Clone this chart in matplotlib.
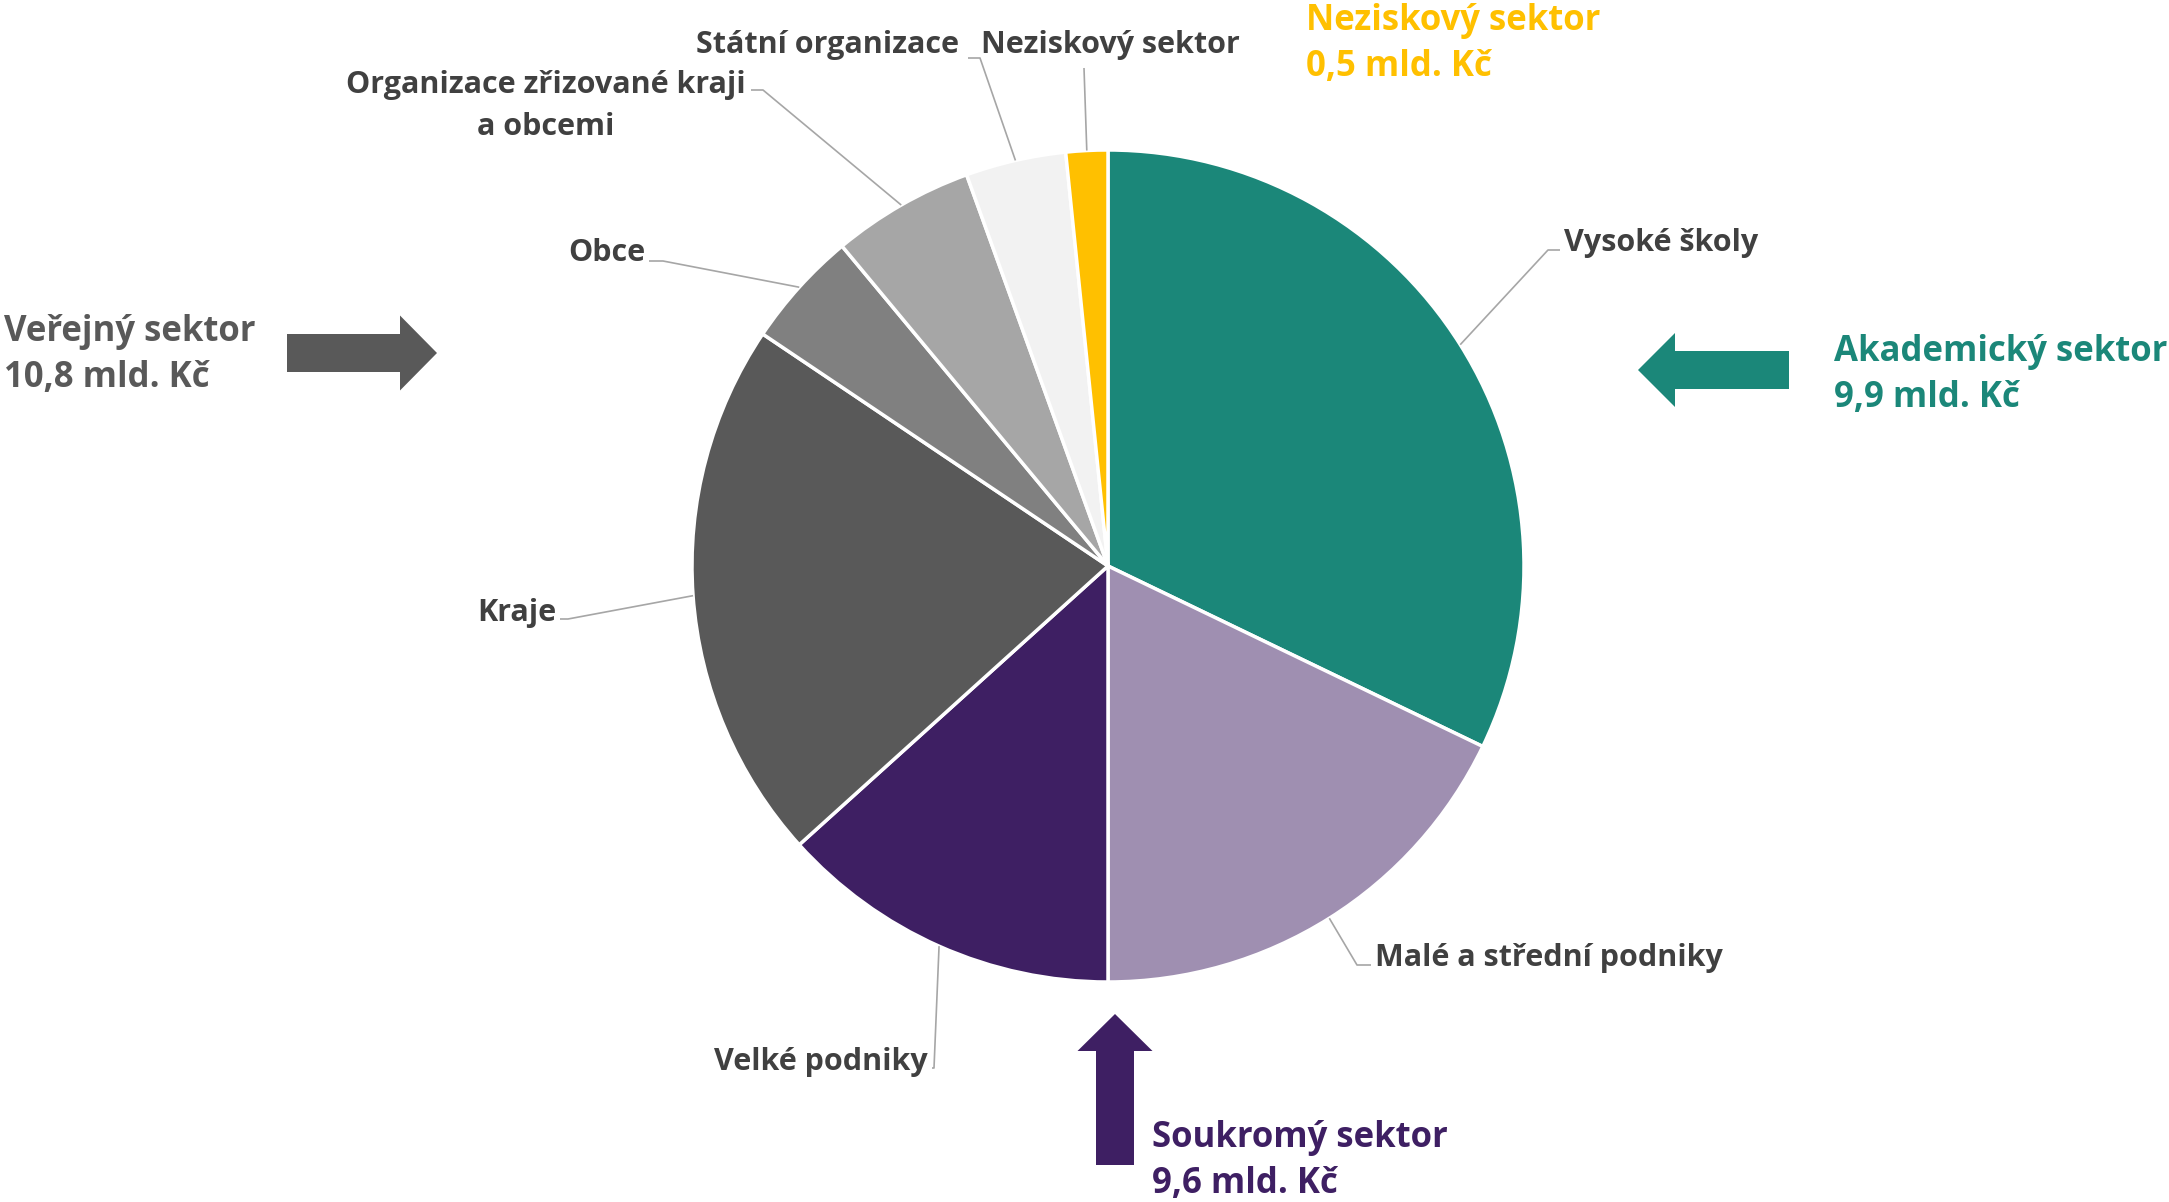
import numpy as np
import matplotlib
matplotlib.use("Agg")
import matplotlib.pyplot as plt
from matplotlib.patches import FancyArrow

plt.rcParams['font.family'] = ['Open Sans', 'DejaVu Sans']

# podíly jednotlivých příjemců (mld. Kč)
categories = ["Vysoké školy", "Malé a střední podniky", "Velké podniky", "Kraje",
              "Obce", "Organizace zřizované kraji\na obcemi", "Státní organizace",
              "Neziskový sektor"]
values = [9.9, 5.5, 4.1, 6.5, 1.4, 1.7, 1.2, 0.5]
colors = ["#1B8779", "#9F8FB1", "#3E1F63", "#595959", "#808080", "#A6A6A6",
          "#F2F2F2", "#FFC000"]

sector_names = ["Akademický sektor", "Soukromý sektor", "Veřejný sektor", "Neziskový sektor"]
sector_totals = ["9,9", "9,6", "10,8", "0,5"]
sector_colors = ["#1B8779", "#3E1F63", "#595959", "#FFC000"]

W, H = 2169, 1202
fig = plt.figure(figsize=(W / 100, H / 100), dpi=100)
ax = fig.add_axes([0, 0, 1, 1])

cx, cy, R = 1108, 566, 416
# osa y je obrácená (pixely shora), takže counterclock=True kreslí po směru hodin
wedges, _ = ax.pie(values, colors=colors, startangle=-90, counterclock=True,
                   center=(cx, cy), radius=R,
                   wedgeprops=dict(edgecolor="white", linewidth=2.5))
ax.set_xlim(0, W)
ax.set_ylim(H, 0)
ax.set_aspect("equal")
ax.axis("off")

# umístění popisků: (x textu, y textu, zarovnání, bod lomu čáry)
label_layout = [
    (1564, 243, "left", (1548, 250)),
    (1375, 958, "left", (1357, 965)),
    (928, 1062, "right", (934, 1068)),
    (556, 613, "right", (568, 619)),
    (645, 253, "right", (663, 261)),
    (546, 106, "center", (763, 90)),
    (827, 45, "center", (980, 58)),
    (1110, 45, "center", (1084, 68)),
]
text_gray = "#404040"
for w, cat, (tx, ty, ha, elbow) in zip(wedges, categories, label_layout):
    mid = np.deg2rad((w.theta1 + w.theta2) / 2)
    ex, ey = cx + R * np.cos(mid), cy + R * np.sin(mid)
    pts_x = [ex, elbow[0]]
    pts_y = [ey, elbow[1]]
    if ha == "left":
        pts_x.append(tx - 4); pts_y.append(elbow[1])
    elif ha == "right":
        pts_x.append(tx + 4); pts_y.append(elbow[1])
    elif cat != "Neziskový sektor":
        pts_x.append(elbow[0] - 12); pts_y.append(elbow[1])
    ax.plot(pts_x, pts_y, color="#A6A6A6", lw=1.2, solid_capstyle="butt")
    ax.text(tx, ty, cat, ha=ha, va="center", fontsize=22, fontweight="bold",
            color=text_gray, linespacing=1.55, multialignment="center")

# sektorové popisky
sector_pos = [(1834, 375), (1152, 1161), (4, 355), (1306, 44)]
for name, tot, col, (sx, sy) in zip(sector_names, sector_totals, sector_colors, sector_pos):
    ax.text(sx, sy, f"{name}\n{tot} mld. Kč", ha="left", va="center", fontsize=25,
            fontweight="bold", color=col, linespacing=1.35)

# šipky
ax.add_patch(FancyArrow(287, 353, 150, 0, width=38, head_width=75, head_length=37,
                        length_includes_head=True, color="#595959", lw=0))
ax.add_patch(FancyArrow(1789, 370, -151, 0, width=38, head_width=74, head_length=37,
                        length_includes_head=True, color="#1B8779", lw=0))
ax.add_patch(FancyArrow(1115, 1165, 0, -151, width=38, head_width=75, head_length=37,
                        length_includes_head=True, color="#3E1F63", lw=0))

fig.savefig("out.png", dpi=100, facecolor="white")
